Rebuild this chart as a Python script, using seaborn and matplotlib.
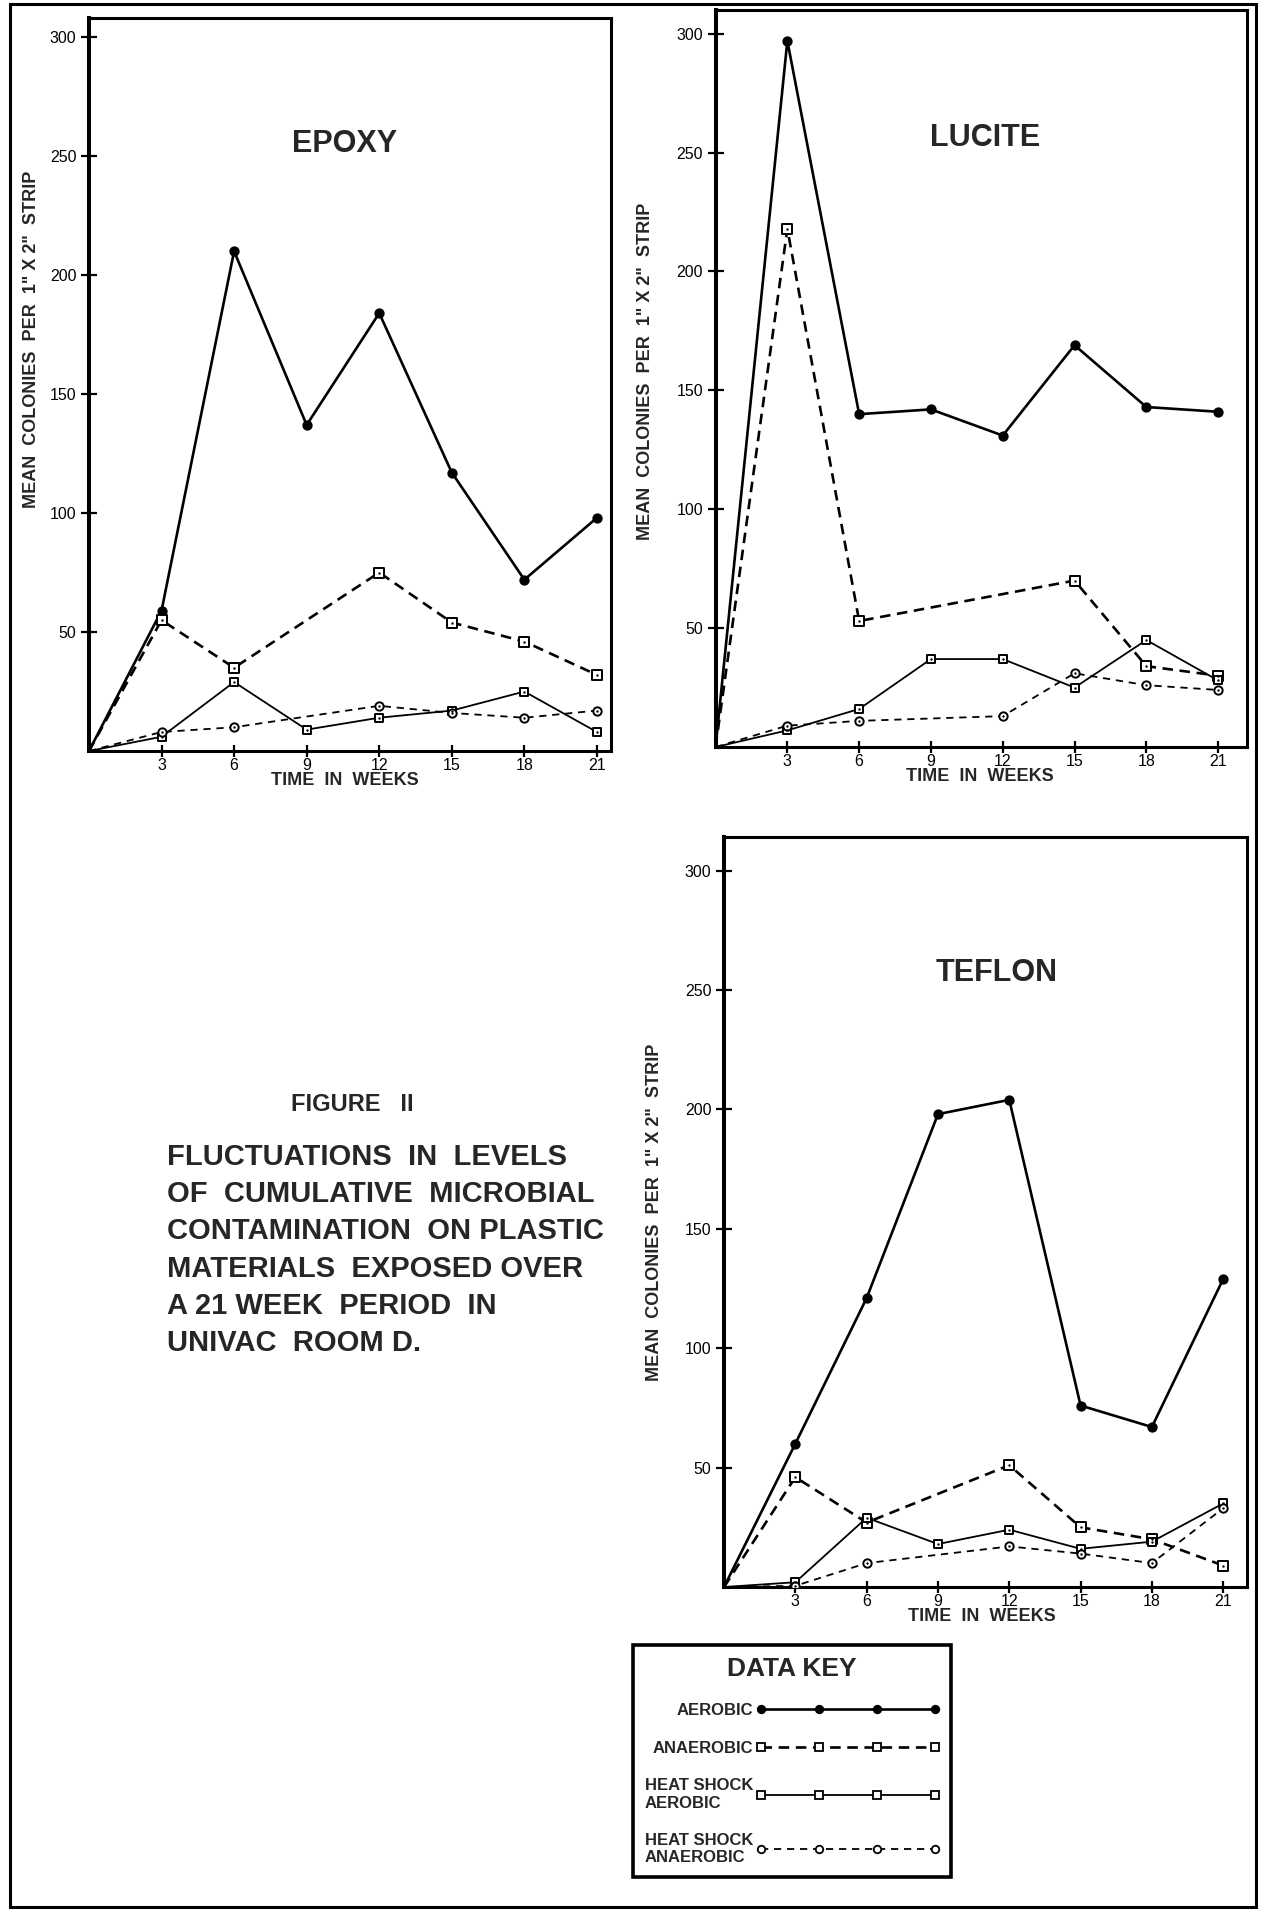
import matplotlib
matplotlib.use('Agg')
import matplotlib.pyplot as plt
from matplotlib.lines import Line2D
from matplotlib.patches import Rectangle
import numpy as np
import pandas as pd
import seaborn as sns

# weeks of exposure, week 0 is the common origin
weeks = [0, 3, 6, 9, 12, 15, 18, 21]
week_ticks = [3, 6, 9, 12, 15, 18, 21]
count_ticks = [50, 100, 150, 200, 250, 300]

# mean colonies per 1" x 2" strip (nan = no point plotted)
epoxy_aerobic = [0, 59, 210, 137, 184, 117, 72, 98]
epoxy_anaerobic = [0, 55, 35, np.nan, 75, 54, 46, 32]
epoxy_hs_aerobic = [0, 6, 29, 9, 14, 17, 25, 8]
epoxy_hs_anaerobic = [0, 8, 10, np.nan, 19, 16, 14, 17]

lucite_aerobic = [0, 297, 140, 142, 131, 169, 143, 141]
lucite_anaerobic = [0, 218, 53, np.nan, np.nan, 70, 34, 30]
lucite_hs_aerobic = [0, 7, 16, 37, 37, 25, 45, 28]
lucite_hs_anaerobic = [0, 9, 11, np.nan, 13, 31, 26, 24]

teflon_aerobic = [0, 60, 121, 198, 204, 76, 67, 129]
teflon_anaerobic = [0, 46, 27, np.nan, 51, 25, 20, 9]
teflon_hs_aerobic = [0, 2, 29, 18, 24, 16, 19, 35]
teflon_hs_anaerobic = [0, 0.5, 10, np.nan, 17, 14, 10, 33]

series_names = ['AEROBIC', 'ANAEROBIC', 'HEAT SHOCK AEROBIC', 'HEAT SHOCK ANAEROBIC']
key_labels = ['AEROBIC', 'ANAEROBIC', 'HEAT SHOCK\nAEROBIC', 'HEAT SHOCK\nANAEROBIC']

caption_lines = [
    'FLUCTUATIONS  IN  LEVELS',
    'OF  CUMULATIVE  MICROBIAL',
    'CONTAMINATION  ON PLASTIC',
    'MATERIALS  EXPOSED OVER',
    'A 21 WEEK  PERIOD  IN',
    'UNIVAC  ROOM D.',
]

styles = {
    'AEROBIC': dict(lw=1.9, ls='-', marker='o', ms=6.0, face='black'),
    'ANAEROBIC': dict(lw=1.9, ls=(0, (4, 2.5)), marker='s', ms=6.5, face='white'),
    'HEAT SHOCK AEROBIC': dict(lw=1.3, ls='-', marker='s', ms=5.8, face='white'),
    'HEAT SHOCK ANAEROBIC': dict(lw=1.3, ls=(0, (4, 3.2)), marker='o', ms=6.0, face='white'),
}

sns.set_theme(style='ticks')
plt.rcParams['font.family'] = ['Liberation Sans', 'DejaVu Sans']

fig = plt.figure(figsize=(12.62, 19.13), dpi=100)


def draw_panel(rect, title, values, ymax, xmax, title_xy, ylab_xy, xlab_xy):
    ax = fig.add_axes(rect)
    for name, vals in zip(series_names, values):
        st = styles[name]
        df = pd.DataFrame({'week': weeks, 'count': vals}).dropna()
        sns.lineplot(data=df, x='week', y='count', ax=ax, color='black',
                     linewidth=st['lw'], linestyle=st['ls'], estimator=None, sort=False)
        pts = df[df['week'] > 0]
        sns.scatterplot(data=pts, x='week', y='count', ax=ax, marker=st['marker'],
                        s=st['ms'] ** 2, color=st['face'], edgecolor='black',
                        linewidth=1.4, zorder=3)
        if st['face'] == 'white':
            sns.scatterplot(data=pts, x='week', y='count', ax=ax, marker='o', s=3,
                            color='black', linewidth=0, zorder=4)
    ax.set_xlim(0, xmax)
    ax.set_ylim(0, ymax)
    ax.set_xticks(week_ticks)
    ax.set_yticks(count_ticks)
    ax.tick_params(axis='y', direction='inout', length=12, width=1.6, pad=3,
                   labelsize=11.5, colors='black')
    ax.tick_params(axis='x', direction='inout', length=9, width=1.6, pad=0.5,
                   labelsize=11.5, colors='black')
    for side in ['top', 'right', 'bottom']:
        ax.spines[side].set_linewidth(2.2)
        ax.spines[side].set_color('black')
    ax.spines['left'].set_linewidth(2.9)
    ax.spines['left'].set_color('black')
    ax.set_xlabel('TIME  IN  WEEKS', fontsize=13, fontweight='bold')
    ax.xaxis.set_label_coords(*xlab_xy)
    ax.set_ylabel('MEAN  COLONIES  PER  1" X 2"  STRIP', fontsize=13, fontweight='bold')
    ax.yaxis.set_label_coords(*ylab_xy)
    ax.text(title_xy[0], title_xy[1], title, transform=ax.transAxes, ha='center',
            va='center', fontsize=22, fontweight='bold')
    return ax


draw_panel([0.0705, 0.6074, 0.414, 0.3832], 'EPOXY',
           [epoxy_aerobic, epoxy_anaerobic, epoxy_hs_aerobic, epoxy_hs_anaerobic],
           308, 21.6, (0.49, 0.828), (-0.093, 0.561), (0.49, -0.028))
draw_panel([0.567, 0.6095, 0.421, 0.3853], 'LUCITE',
           [lucite_aerobic, lucite_anaerobic, lucite_hs_aerobic, lucite_hs_anaerobic],
           310, 22.2, (0.508, 0.826), (-0.115, 0.51), (0.497, -0.028))
draw_panel([0.5737, 0.1704, 0.4144, 0.392], 'TEFLON',
           [teflon_aerobic, teflon_anaerobic, teflon_hs_aerobic, teflon_hs_anaerobic],
           314, 22.0, (0.522, 0.819), (-0.117, 0.50), (0.494, -0.0285))

# caption on the left
fig.text(0.279, 0.4224, 'FIGURE   II', ha='center', va='center', fontsize=17,
         fontweight='bold')
for i, line in enumerate(caption_lines):
    fig.text(0.1323, 1 - (1157 + i * 37.2) / 1913, line, ha='left', va='center',
             fontsize=21, fontweight='bold')

# data key
handles = []
for name in series_names:
    st = styles[name]
    handles.append(Line2D([], [], color='black', linewidth=st['lw'], linestyle=st['ls'],
                          marker=st['marker'], markersize=st['ms'] * 0.9,
                          markerfacecolor=st['face'], markeredgecolor='black',
                          markeredgewidth=1.3))
leg = fig.legend(handles, key_labels, loc='upper left', bbox_to_anchor=(0.5016, 0.1401),
                 borderaxespad=0, numpoints=4, markerfirst=False, handlelength=11,
                 handletextpad=0.2, title='DATA KEY',
                 title_fontproperties={'weight': 'bold', 'size': 19},
                 prop={'weight': 'bold', 'size': 12}, frameon=True, fancybox=False,
                 edgecolor='black', framealpha=1, borderpad=0.7, labelspacing=1.35)
leg.get_frame().set_linewidth(2.6)

# page frame
fig.add_artist(Rectangle((0.0079, 0.003), 0.9873, 0.995, transform=fig.transFigure,
                         fill=False, edgecolor='black', linewidth=2.2))

fig.savefig('out.png', dpi=100, facecolor='white')
